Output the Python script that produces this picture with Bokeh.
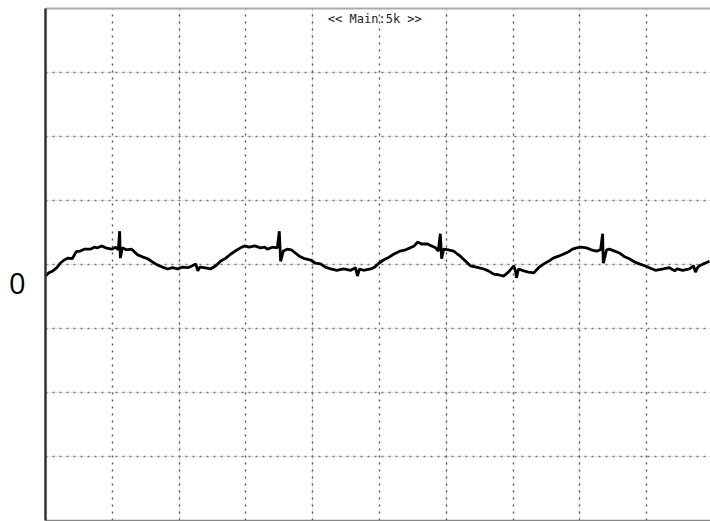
from bokeh.plotting import figure
from bokeh.models import Range1d, LinearAxis, FixedTicker, Grid, Label, CustomJSTickFormatter
from bokeh.embed import file_html
from bokeh.resources import INLINE

# time in horizontal divisions, signal in vertical divisions
t_div = [0.00,0.05,0.11,0.17,0.22,0.28,0.34,0.40,0.46,0.52,
         0.58,0.67,0.73,0.78,0.84,0.90,0.99,1.05,1.09,1.11,
         1.12,1.15,1.21,1.29,1.33,1.38,1.45,1.53,1.60,1.68,
         1.75,1.83,1.90,1.98,2.05,2.13,2.20,2.25,2.28,2.31,
         2.37,2.47,2.55,2.62,2.70,2.77,2.84,2.92,2.98,3.05,
         3.13,3.22,3.28,3.32,3.40,3.47,3.50,3.52,3.56,3.62,
         3.68,3.74,3.80,3.88,3.97,4.04,4.12,4.19,4.27,4.36,
         4.46,4.57,4.64,4.67,4.70,4.76,4.87,4.93,4.99,5.06,
         5.12,5.21,5.31,5.39,5.46,5.52,5.57,5.63,5.72,5.78,
         5.84,5.88,5.91,5.93,5.96,6.03,6.11,6.17,6.21,6.29,
         6.36,6.45,6.56,6.63,6.71,6.78,6.86,6.93,7.01,7.04,
         7.05,7.08,7.16,7.23,7.31,7.38,7.46,7.53,7.60,7.68,
         7.75,7.83,7.89,7.95,8.02,8.10,8.17,8.25,8.31,8.34,
         8.35,8.40,8.44,8.52,8.59,8.67,8.74,8.82,8.89,8.97,
         9.04,9.13,9.25,9.34,9.42,9.45,9.54,9.64,9.70,9.73,
         9.76,9.79,9.87,9.94]

v_div = [-0.18,-0.13,-0.10,-0.05,0.02,0.07,0.10,0.09,0.20,0.21,
         0.24,0.24,0.27,0.26,0.29,0.26,0.24,0.27,0.23,0.52,
         0.10,0.26,0.23,0.24,0.20,0.15,0.12,0.09,0.04,-0.01,
         -0.04,-0.07,-0.05,-0.07,-0.04,-0.05,-0.02,0.01,-0.10,-0.04,
         -0.05,-0.07,-0.02,0.05,0.10,0.16,0.21,0.26,0.29,0.27,
         0.29,0.26,0.27,0.24,0.27,0.26,0.52,0.05,0.21,0.24,
         0.23,0.18,0.13,0.09,0.07,0.02,0.01,-0.04,-0.07,-0.09,
         -0.07,-0.09,-0.05,-0.18,-0.07,-0.09,-0.07,-0.04,0.02,0.07,
         0.10,0.16,0.21,0.23,0.26,0.29,0.35,0.32,0.32,0.29,
         0.26,0.21,0.48,0.09,0.24,0.23,0.21,0.16,0.13,0.05,
         -0.02,-0.04,-0.07,-0.10,-0.15,-0.16,-0.18,-0.12,-0.02,-0.12,
         -0.21,-0.07,-0.10,-0.12,-0.13,-0.05,0.01,0.05,0.10,0.13,
         0.16,0.20,0.24,0.26,0.27,0.26,0.23,0.21,0.23,0.48,
         0.02,0.23,0.24,0.21,0.18,0.12,0.09,0.04,0.01,-0.02,
         -0.05,-0.09,-0.07,-0.05,-0.10,-0.07,-0.09,-0.07,-0.02,-0.12,
         -0.05,-0.02,0.02,0.05]

x_grid = [1, 2, 3, 4, 5, 6, 7, 8, 9]
y_grid = [-3, -2, -1, 0, 1, 2, 3]
zero_label_pos = [-0.29]
title_text = "<< Main:5k >>"
zero_text = "0"

p = figure(width=710, height=521, output_backend="svg", toolbar_location=None,
           x_range=Range1d(0, 9.955), y_range=Range1d(-4, 4),
           x_axis_location=None, y_axis_location=None,
           min_border_left=45, min_border_right=0, min_border_top=8, min_border_bottom=1)
p.outline_line_color = None
p.background_fill_color = "white"
p.border_fill_color = "white"


def border_axis(color, width, ticks=()):
    ax = LinearAxis(ticker=FixedTicker(ticks=list(ticks)), axis_line_color=color, axis_line_width=width,
                    major_tick_line_color=None, minor_tick_line_color=None,
                    major_tick_in=0, major_tick_out=0, minor_tick_in=0, minor_tick_out=0,
                    major_label_standoff=0, major_label_text_font_size="0px")
    return ax


left = border_axis("#333333", 2.5, zero_label_pos)
left.formatter = CustomJSTickFormatter(code="return '%s';" % zero_text)
left.major_label_text_font_size = "29px"
left.major_label_text_font = "Open Sans"
left.major_label_text_color = "black"
left.major_label_standoff = 20
p.add_layout(left, "left")
p.add_layout(border_axis("#aaaaaa", 2), "above")
p.add_layout(border_axis("#888888", 1.5), "below")

gx = Grid(dimension=0, ticker=FixedTicker(ticks=x_grid), grid_line_color="#555555",
          grid_line_width=1.4, grid_line_dash="2 5")
gy = Grid(dimension=1, ticker=FixedTicker(ticks=y_grid), grid_line_color="#777777",
          grid_line_width=1.4, grid_line_dash="2 5")
p.add_layout(gx, "center")
p.add_layout(gy, "center")

p.line(t_div, v_div, line_color="black", line_width=2.8)

p.add_layout(Label(x=4.93, y=3.94, text=title_text, text_align="center", text_baseline="top",
                   text_font="DejaVu Sans Mono", text_font_size="12px", text_color="#222222"))

open("out.html", "w").write(file_html(p, INLINE))
